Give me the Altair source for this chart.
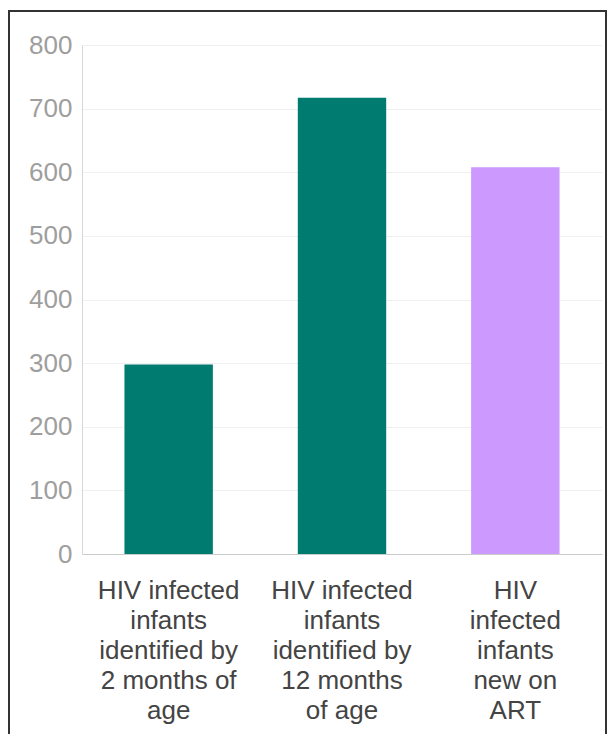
import altair as alt
import pandas as pd

categories = [
    "HIV infected infants identified by 2 months of age",
    "HIV infected infants identified by 12 months of age",
    "HIV infected infants new on ART",
]
values = [298, 717, 608]
colors = ["#007B70", "#007B70", "#CC99FF"]
wrapped = [
    ["HIV infected", "infants", "identified by", "2 months of", "age"],
    ["HIV infected", "infants", "identified by", "12 months", "of age"],
    ["HIV", "infected", "infants", "new on", "ART"],
]
y_ticks = [0, 100, 200, 300, 400, 500, 600, 700, 800]

df = pd.DataFrame({"category": categories, "value": values, "color": colors})

label_map = "{" + ", ".join(
    "'" + c + "': [" + ", ".join("'" + w + "'" for w in lines) + "]"
    for c, lines in zip(categories, wrapped)
) + "}"

bars = alt.Chart(df).mark_bar().encode(
    x=alt.X(
        "category:N",
        sort=categories,
        scale=alt.Scale(paddingInner=0.49),
        axis=alt.Axis(
            title=None,
            labelAngle=0,
            labelExpr=label_map + "[datum.value]",
            labelFont="Liberation Sans",
            labelFontSize=26,
            labelColor="#444444",
            labelLineHeight=30,
            labelPadding=23,
            ticks=False,
            tickSize=0,
            domainColor="#cccccc",
            grid=False,
            labelLimit=300,
        ),
    ),
    y=alt.Y(
        "value:Q",
        scale=alt.Scale(domain=[0, 800], nice=False),
        axis=alt.Axis(
            title=None,
            values=y_ticks,
            ticks=False,
            tickSize=0,
            labelFont="Liberation Sans",
            labelFontSize=26,
            labelColor="#9e9e9e",
            labelPadding=10,
            domainColor="#d6d6d6",
            gridColor="#f0f0f0",
        ),
    ),
    color=alt.Color("color:N", scale=None),
)

frame = alt.Chart(pd.DataFrame({"a": [0]})).mark_rect(
    fill="white", fillOpacity=0, stroke="#333333", strokeWidth=2
).encode(
    x=alt.value(-73),
    x2=alt.value(524),
    y=alt.value(-34),
    y2=alt.value(710),
)

chart = alt.layer(bars, frame).properties(
    width=520,
    height=509,
    padding={"left": 74, "top": 37, "right": 5, "bottom": 180},
    autosize=alt.AutoSizeParams(type="none"),
).configure_view(stroke=None)

chart.save("out.html", embed_options={"renderer": "svg", "actions": False})
